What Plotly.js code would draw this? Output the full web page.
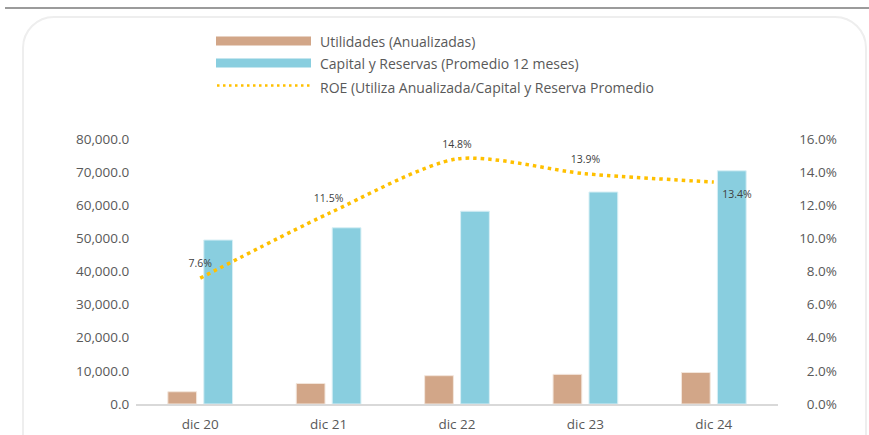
<!DOCTYPE html>
<html>
<head>
<meta charset="utf-8">
<script src="https://cdn.plot.ly/plotly-3.0.1.min.js"></script>
<style>
  html, body { margin: 0; padding: 0; background: #ffffff; width: 869px; height: 435px; overflow: hidden; }
  #topline { position: absolute; left: 5px; top: 7px; width: 864px; height: 2px; background: #9b9b9b; }
  #card { position: absolute; left: 22px; top: 16px; width: 845px; height: 450px; border: 2px solid #eeeeee; border-radius: 32px; box-sizing: border-box; }
  #chart { position: absolute; left: 0; top: 0; width: 869px; height: 435px; }
</style>
</head>
<body>
<div id="topline"></div>
<div id="card"></div>
<div id="chart"></div>
<script>
// ---- Data ----
const categories = ['dic 20', 'dic 21', 'dic 22', 'dic 23', 'dic 24'];
const utilidades = [3700, 6200, 8550, 8950, 9500];
const capital = [49500, 53200, 58200, 64000, 70400];
const roe = [7.6, 11.5, 14.8, 13.9, 13.4];
const seriesNames = [
  'Utilidades (Anualizadas)',
  'Capital y Reservas (Promedio 12 meses)',
  'ROE (Utiliza Anualizada/Capital y Reserva Promedio'
];
const leftTicks = [0, 10000, 20000, 30000, 40000, 50000, 60000, 70000, 80000];
const rightTicks = [0, 2, 4, 6, 8, 10, 12, 14, 16];

// ---- Styling ----
const FONT = '"Open Sans", "Noto Sans", sans-serif';
const GREY = '#595959';
const C_UTIL = '#D2A688';
const C_CAP = '#89CEDF';
const C_ROE = '#FFC000';

// pixel geometry of the plot area
const L = 136, R = 840, T = 139, B = 404;
const W = 869, H = 435;
const px = x => (x - L) / (R - L);
const py = y => (B - y) / (B - T);
const xDomainEnd = (778 - L) / (R - L);

const fmtLeft = v => v.toLocaleString('en-US', {minimumFractionDigits: 1, maximumFractionDigits: 1});
const fmtPct = v => v.toFixed(1) + '%';

const traces = [
  {
    type: 'bar', name: seriesNames[0], x: categories, y: utilidades,
    marker: {color: C_UTIL, line: {color: '#f3e6dc', width: 1}},
    hoverinfo: 'skip', showlegend: false
  },
  {
    type: 'bar', name: seriesNames[1], x: categories, y: capital,
    marker: {color: C_CAP, line: {color: '#d7eff5', width: 1}},
    hoverinfo: 'skip', showlegend: false
  },
  {
    type: 'scatter', mode: 'lines+markers+text', name: seriesNames[2], x: categories, y: roe,
    yaxis: 'y2',
    line: {color: C_ROE, width: 3.5, dash: '3.5px,4px', shape: 'spline', smoothing: 0.75},
    marker: {size: 12, color: 'rgba(0,0,0,0)'},
    text: roe.map(fmtPct),
    textposition: ['top center', 'top center', 'top center', 'top center', 'bottom right'],
    textfont: {family: FONT, size: 10.5, color: '#404040'},
    cliponaxis: false,
    hoverinfo: 'skip', showlegend: false
  }
];

// custom legend
const legY = [41, 63, 86];
const shapes = [
  {type: 'rect', xref: 'paper', yref: 'paper', x0: px(216), x1: px(311), y0: py(36.5), y1: py(45.5), fillcolor: C_UTIL, line: {width: 0}},
  {type: 'rect', xref: 'paper', yref: 'paper', x0: px(216), x1: px(311), y0: py(58.5), y1: py(67.5), fillcolor: C_CAP, line: {width: 0}},
  {type: 'line', xref: 'paper', yref: 'paper', x0: px(217), x1: px(311), y0: py(85.5), y1: py(85.5), line: {color: C_ROE, width: 2.5, dash: '2.5px,3.5px'}}
];
const annotations = seriesNames.map((n, i) => ({
  xref: 'paper', yref: 'paper', x: px(318), y: py(legY[i] + (i === 2 ? 1.5 : 0)),
  xanchor: 'left', yanchor: 'middle', showarrow: false, text: n,
  font: {family: FONT, size: 14, color: GREY}
}));

const layout = {
  width: W, height: H,
  margin: {l: L, r: W - R, t: T, b: H - B, pad: 0},
  paper_bgcolor: 'rgba(0,0,0,0)',
  plot_bgcolor: 'rgba(0,0,0,0)',
  font: {family: FONT, color: GREY},
  showlegend: false,
  barmode: 'group',
  bargap: 0.44,
  bargroupgap: 0.2,
  xaxis: {
    domain: [0, xDomainEnd],
    showline: true, linecolor: '#d9d9d9', linewidth: 1.5,
    showgrid: false, zeroline: false,
    ticks: 'outside', ticklen: 7, tickcolor: 'rgba(0,0,0,0)',
    tickfont: {family: FONT, size: 13.5, color: GREY},
    fixedrange: true
  },
  yaxis: {
    range: [0, 80000],
    tickvals: leftTicks, ticktext: leftTicks.map(fmtLeft),
    showgrid: false, zeroline: false, showline: false,
    ticks: 'outside', ticklen: 3, tickcolor: 'rgba(0,0,0,0)',
    tickfont: {family: FONT, size: 13.5, color: GREY},
    fixedrange: true
  },
  yaxis2: {
    range: [0, 16],
    overlaying: 'y', side: 'right', anchor: 'free', position: 1,
    ticklabelposition: 'inside',
    ticklabeloverflow: 'allow',
    tickvals: rightTicks, ticktext: rightTicks.map(fmtPct),
    showgrid: false, zeroline: false, showline: false,
    ticks: '',
    tickfont: {family: FONT, size: 13.5, color: GREY},
    fixedrange: true
  },
  shapes: shapes,
  annotations: annotations
};

Plotly.newPlot('chart', traces, layout, {displayModeBar: false, staticPlot: true});
</script>
</body>
</html>
